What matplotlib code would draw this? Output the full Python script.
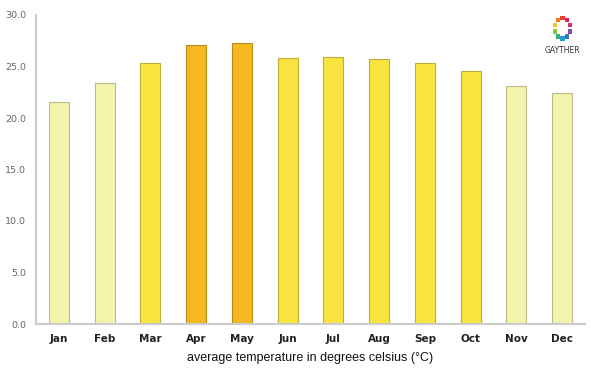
import matplotlib.pyplot as plt
import numpy as np

months = ['Jan', 'Feb', 'Mar', 'Apr', 'May', 'Jun', 'Jul', 'Aug', 'Sep', 'Oct', 'Nov', 'Dec']
temps = [21.6, 23.4, 25.3, 27.1, 27.3, 25.8, 25.9, 25.7, 25.3, 24.6, 23.1, 22.4]
levels = ['cool', 'cool', 'warm', 'hot', 'hot', 'warm', 'warm', 'warm', 'warm', 'warm', 'cool', 'cool']

fill = {'cool': '#F3F3AB', 'warm': '#F9E33F', 'hot': '#F5B821'}
edge = {'cool': '#BDBA8A', 'warm': '#BFAE3A', 'hot': '#B98C1E'}

fig = plt.figure(figsize=(6, 3.75), dpi=100)
ax = fig.add_axes([0.06, 0.136, 0.915, 0.824])

x = np.arange(len(months))
ax.bar(x, temps, width=0.44, color=[fill[l] for l in levels],
       edgecolor=[edge[l] for l in levels], linewidth=0.8)

ax.set_xlim(-0.5, 11.5)
ax.set_ylim(0, 30)
ax.set_yticks(np.arange(0, 31, 5))
ax.set_yticklabels([f'{v:.1f}' for v in np.arange(0, 31, 5)], fontsize=6.8, color='#666666')
ax.set_xticks(x)
ax.set_xticklabels(months, fontsize=7.5, fontweight='bold', color='#222222')
ax.tick_params(axis='x', length=0, pad=7)
ax.tick_params(axis='y', length=0, pad=7)
for s in ['top', 'right']:
    ax.spines[s].set_visible(False)
for s in ['left', 'bottom']:
    ax.spines[s].set_color('#cccccc')
    ax.spines[s].set_linewidth(1.5)

ax.set_xlabel('average temperature in degrees celsius (°C)', fontsize=9,
              family='Liberation Sans', color='#111111', labelpad=6)

# small logo, top right
lax = fig.add_axes([0.9, 0.84, 0.075, 0.13])
lax.set_xlim(-1, 1)
lax.set_ylim(-1, 1)
lax.axis('off')
cols = ['#e8402a', '#f07d1b', '#f5c518', '#8cc63f', '#2bb673', '#1ba1d8', '#3f6fb6', '#8e44ad', '#d6336c', '#e91e63']
ang = np.linspace(0, 2 * np.pi, len(cols), endpoint=False) + np.pi / 2
lax.scatter(0.36 * np.cos(ang), 0.3 + 0.42 * np.sin(ang), s=10, c=cols, marker='s', linewidths=0)
lax.text(0, -0.6, 'GAYTHER', fontsize=5.5, ha='center', va='center', color='#333333')

fig.savefig('out.png', dpi=100)
